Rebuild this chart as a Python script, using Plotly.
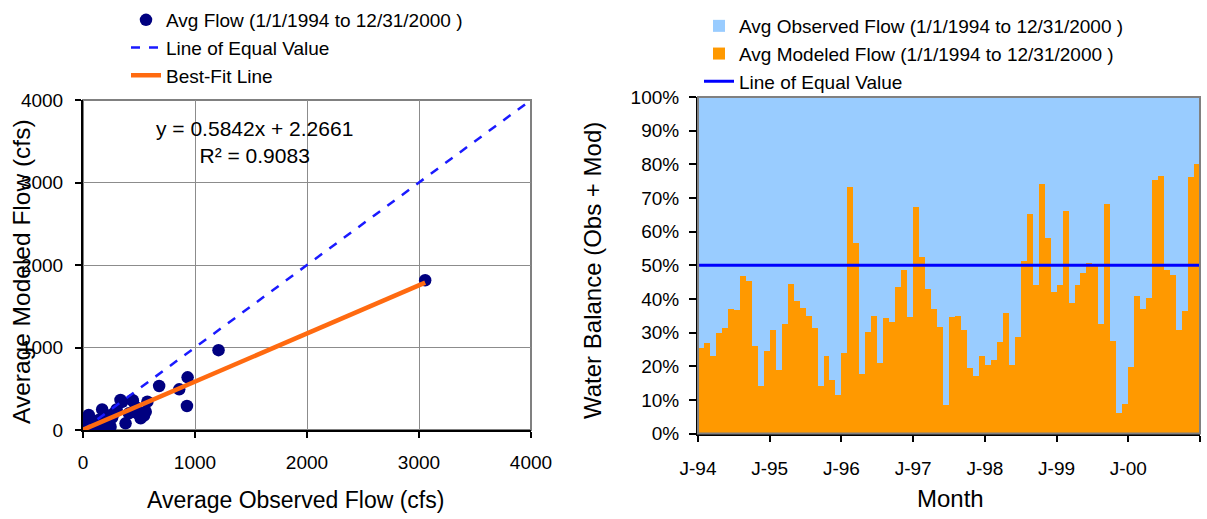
import plotly.graph_objects as go

# ---------------- data ----------------
# Left panel: average monthly flows (cfs)
obs_flow = [3055, 1210, 934, 859, 928, 680, 575, 560, 545, 515, 440, 446, 335, 350,
            380, 410, 275, 300, 171, 186, 51, 246, 66, 96, 6, 485, 470, 230, 200, 150,
            120, 100, 80, 60, 40, 30, 20, 10, 15, 5, 25, 35, 45, 70, 90, 110, 130, 160,
            180, 220, 260, 12, 8, 30, 55, 140, 210]
mod_flow = [1815, 968, 638, 493, 291, 533, 343, 222, 175, 141, 364, 355, 364, 340,
            81, 202, 202, 250, 250, 81, 182, 40, 81, 101, 20, 202, 280, 150, 150, 90,
            60, 40, 120, 30, 20, 10, 15, 5, 8, 3, 12, 25, 50, 20, 35, 70, 30, 110,
            60, 120, 150, 40, 70, 100, 130, 120, 180]
equal_x = [0, 4000]
fit_x = [0, 3055]
fit_slope = 0.5842
fit_intercept = 2.2661

# Right panel: modeled share of (observed + modeled) monthly flow, %
months = ["1994-%02d" % m for m in range(1, 13)] + ["1995-%02d" % m for m in range(1, 13)] + \
         ["1996-%02d" % m for m in range(1, 13)] + ["1997-%02d" % m for m in range(1, 13)] + \
         ["1998-%02d" % m for m in range(1, 13)] + ["1999-%02d" % m for m in range(1, 13)] + \
         ["2000-%02d" % m for m in range(1, 13)]
mod_share = [25.4, 26.9, 23.0, 30.0, 31.5, 36.9, 36.6, 46.9, 45.3, 26.1, 14.0, 24.4,
             30.7, 18.8, 32.4, 44.4, 39.3, 37.2, 34.8, 31.3, 14.1, 22.9, 15.8, 11.5,
             24.0, 73.3, 56.6, 17.7, 30.3, 34.8, 21.1, 34.2, 33.0, 43.4, 48.7, 34.6,
             67.4, 52.4, 43.0, 36.9, 31.6, 8.5, 34.6, 34.9, 30.7, 19.6, 17.1, 23.0,
             20.4, 21.7, 27.2, 35.7, 20.4, 28.8, 51.4, 65.3, 44.1, 74.0, 58.0, 42.0,
             44.2, 66.0, 38.9, 44.0, 47.8, 50.8, 50.4, 32.4, 68.1, 27.5, 6.1, 8.8,
             19.7, 40.8, 36.9, 40.2, 75.2, 76.6, 48.7, 47.2, 30.8, 36.4, 76.3, 80.2]
obs_share = [100 - v for v in mod_share]
year_ticks = ["J-94", "J-95", "J-96", "J-97", "J-98", "J-99", "J-00", ""]
pct_ticks = [0, 10, 20, 30, 40, 50, 60, 70, 80, 90, 100]
pct_labels = ["0%", "10%", "20%", "30%", "40%", "50%", "60%", "70%", "80%", "90%", "100%"]
flow_ticks = [0, 1000, 2000, 3000, 4000]

# ---------------- figure ----------------
W, H = 1207, 519
FONT = "Liberation Sans, Arial, sans-serif"

def px_x(x):
    return x / W

def px_y(y):
    return 1 - y / H

fig = go.Figure()

# Left panel traces
fig.add_trace(go.Scatter(
    x=obs_flow, y=mod_flow, mode="markers",
    name="Avg Flow (1/1/1994 to 12/31/2000 )",
    marker=dict(color="#000080", size=12.5),
    xaxis="x", yaxis="y", legend="legend"))
fig.add_trace(go.Scatter(
    x=equal_x, y=equal_x, mode="lines", name="Line of Equal Value",
    line=dict(color="#1a1aff", width=2.5, dash="dash"),
    xaxis="x", yaxis="y", legend="legend"))
fig.add_trace(go.Scatter(
    x=fit_x, y=[fit_slope * v + fit_intercept for v in fit_x], mode="lines",
    name="Best-Fit Line",
    line=dict(color="#FF6A10", width=4.5),
    xaxis="x", yaxis="y", legend="legend"))

# Right panel traces
xi = [i + 0.5 for i in range(len(months))]
fig.add_trace(go.Bar(
    x=xi, y=mod_share, name="Avg Modeled Flow (1/1/1994 to 12/31/2000 )",
    marker=dict(color="#FF9900", line=dict(width=0)), width=1.0,
    customdata=months, xaxis="x2", yaxis="y2", legend="legend2", legendrank=2))
fig.add_trace(go.Bar(
    x=xi, y=obs_share, name="Avg Observed Flow (1/1/1994 to 12/31/2000 )",
    marker=dict(color="#99CCFF", line=dict(width=0)), width=1.0,
    customdata=months, xaxis="x2", yaxis="y2", legend="legend2", legendrank=1))
fig.add_trace(go.Scatter(
    x=[0, len(months)], y=[50, 50], mode="lines", name="Line of Equal Value",
    line=dict(color="#0000FF", width=3),
    xaxis="x2", yaxis="y2", legend="legend2", legendrank=3))

tickfont = dict(family=FONT, size=19, color="black")

fig.update_layout(
    width=W, height=H,
    margin=dict(l=0, r=0, t=0, b=0, autoexpand=False),
    paper_bgcolor="white", plot_bgcolor="white",
    barmode="stack", bargap=0,
    font=dict(family=FONT, color="black"),
    xaxis=dict(domain=[px_x(83), px_x(531)], range=[0, 4000], tickvals=flow_ticks,
               showgrid=True, gridcolor="#8c8c8c", gridwidth=1, zeroline=False,
               showline=True, linecolor="black", linewidth=2, automargin=False,
               ticks="outside", ticklen=6, tickcolor="black", tickwidth=2,
               tickfont=tickfont, ticklabelstandoff=8, anchor="y"),
    yaxis=dict(domain=[px_y(430), px_y(100)], range=[0, 4000], tickvals=flow_ticks,
               showgrid=True, gridcolor="#8c8c8c", gridwidth=1, zeroline=False,
               showline=True, linecolor="black", linewidth=2, automargin=False,
               ticks="outside", ticklen=6, tickcolor="black", tickwidth=2,
               tickfont=tickfont, ticklabelstandoff=8, anchor="x"),
    xaxis2=dict(domain=[px_x(698), px_x(1200)], range=[0, len(months)],
                tickvals=[0, 12, 24, 36, 48, 60, 72, 84], ticktext=year_ticks,
                showgrid=False, zeroline=False, automargin=False,
                showline=True, linecolor="black", linewidth=2,
                ticks="outside", ticklen=6, tickcolor="black", tickwidth=2,
                tickfont=tickfont, ticklabelstandoff=11, anchor="y2"),
    yaxis2=dict(domain=[px_y(433.5), px_y(97)], range=[0, 100], tickvals=pct_ticks,
                ticktext=pct_labels, showgrid=False, zeroline=False, automargin=False,
                showline=True, linecolor="black", linewidth=2,
                ticks="outside", ticklen=7, tickcolor="black", tickwidth=2,
                tickfont=tickfont, ticklabelstandoff=6, anchor="x2"),
    legend=dict(x=px_x(126), xanchor="left", y=px_y(1), yanchor="top",
                bgcolor="rgba(0,0,0,0)", font=dict(family=FONT, size=19),
                itemwidth=30, traceorder="normal"),
    legend2=dict(x=px_x(699), xanchor="left", y=px_y(7), yanchor="top",
                 bgcolor="rgba(0,0,0,0)", font=dict(family=FONT, size=19),
                 itemwidth=30, traceorder="normal"),
    showlegend=True,
    shapes=[
        dict(type="rect", xref="paper", yref="paper",
             x0=px_x(83), x1=px_x(531), y0=px_y(430), y1=px_y(100),
             line=dict(color="#808080", width=2), layer="below"),
        dict(type="rect", xref="paper", yref="paper",
             x0=px_x(698), x1=px_x(1200), y0=px_y(433.5), y1=px_y(97),
             line=dict(color="#808080", width=2), layer="above"),
    ],
    annotations=[
        dict(text="y = 0.5842x + 2.2661<br>R² = 0.9083", xref="x", yref="y",
             x=1530, y=3490, showarrow=False, align="center",
             xanchor="center", yanchor="middle",
             font=dict(family=FONT, size=21)),
        dict(text="Average Observed Flow (cfs)", xref="paper", yref="paper",
             x=px_x(295), y=px_y(500), showarrow=False,
             xanchor="center", yanchor="middle",
             font=dict(family=FONT, size=23)),
        dict(text="Average Modeled Flow (cfs)", xref="paper", yref="paper",
             x=px_x(21), y=px_y(272), showarrow=False, textangle=-90,
             xanchor="center", yanchor="middle",
             font=dict(family=FONT, size=24.5)),
        dict(text="Month", xref="paper", yref="paper",
             x=px_x(950), y=px_y(498), showarrow=False,
             xanchor="center", yanchor="middle",
             font=dict(family=FONT, size=24)),
        dict(text="Water Balance (Obs + Mod)", xref="paper", yref="paper",
             x=px_x(592), y=px_y(271), showarrow=False, textangle=-90,
             xanchor="center", yanchor="middle",
             font=dict(family=FONT, size=24)),
    ],
)

fig.write_html("out.html", config={"displayModeBar": False},
               post_script="document.body.style.margin='0px';")
